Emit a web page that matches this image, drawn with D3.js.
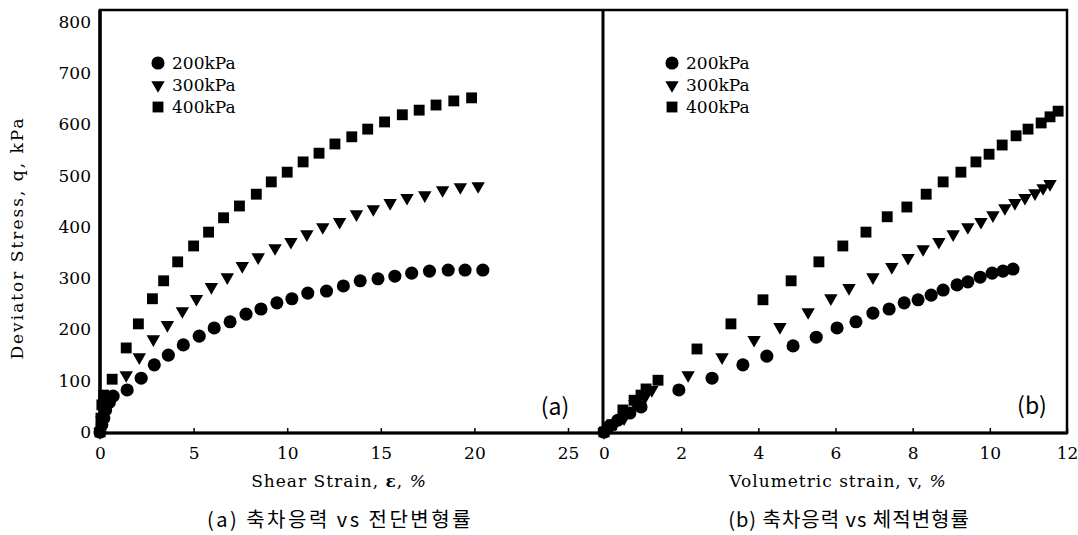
<!DOCTYPE html>
<html>
<head>
<meta charset="utf-8">
<script src="https://cdn.jsdelivr.net/npm/d3@7"></script>
<style>
  body { margin: 0; background: white; }
  svg { display: block; }
</style>
</head>
<body>
<svg id="chart"></svg>
<script>
// deviator stress vs shear strain (a) and volumetric strain (b)
var W = 1078;
var H = 535;

var seriesNames = ["200kPa", "300kPa", "400kPa"];

// panel (a): shear strain %, deviator stress kPa
var a200_x = [0, 0.1, 0.2, 0.3, 0.5, 0.7, 1.45, 2.2, 2.9, 3.65, 4.45, 5.3, 6.1, 6.95, 7.8, 8.6, 9.45, 10.25, 11.1, 12.1, 13.0, 13.9, 14.85, 15.75, 16.65, 17.6, 18.6, 19.5, 20.45];
var a200_q = [0, 14, 27, 43, 58, 70, 82, 105, 131, 150, 170, 187, 203, 215, 230, 240, 252, 260, 271, 275, 285, 295, 299, 304, 310, 314, 316, 316, 316];

var a300_x = [0, 0.1, 0.2, 0.3, 1.4, 2.1, 2.85, 3.6, 4.4, 5.15, 5.95, 6.8, 7.6, 8.45, 9.35, 10.2, 11.05, 11.9, 12.8, 13.7, 14.6, 15.5, 16.4, 17.35, 18.3, 19.25, 20.2];
var a300_q = [0, 23, 53, 72, 111, 146, 181, 209, 236, 260, 283, 302, 324, 341, 359, 371, 386, 400, 410, 425, 435, 447, 457, 462, 472, 478, 480];

var a400_x = [0, 0.05, 0.1, 0.2, 0.65, 1.4, 2.05, 2.8, 3.4, 4.15, 5.0, 5.8, 6.6, 7.45, 8.35, 9.15, 10.0, 10.85, 11.7, 12.55, 13.45, 14.3, 15.2, 16.15, 17.05, 17.95, 18.9, 19.85];
var a400_q = [0, 27, 53, 72, 103, 164, 211, 260, 295, 332, 363, 390, 418, 441, 464, 488, 507, 527, 544, 562, 576, 591, 605, 619, 628, 638, 646, 652];

// panel (b): volumetric strain %, deviator stress kPa
var b200_x = [0, 0.15, 0.36, 0.67, 0.96, 1.94, 2.8, 3.6, 4.22, 4.9, 5.5, 6.04, 6.53, 6.97, 7.39, 7.78, 8.14, 8.48, 8.79, 9.15, 9.43, 9.75, 10.06, 10.34, 10.6];
var b200_q = [0, 12, 23, 37, 49, 82, 105, 131, 148, 168, 185, 203, 215, 232, 240, 252, 258, 267, 277, 287, 293, 302, 310, 314, 318];

var b300_x = [0, 0.29, 0.52, 0.8, 1.06, 1.24, 2.18, 3.06, 3.89, 4.56, 5.29, 5.88, 6.35, 6.97, 7.46, 7.88, 8.27, 8.68, 9.05, 9.43, 9.77, 10.08, 10.39, 10.65, 10.91, 11.17, 11.38, 11.56];
var b300_q = [0, 16, 27, 55, 68, 82, 111, 146, 180, 205, 234, 261, 281, 302, 322, 340, 357, 371, 386, 400, 410, 423, 437, 447, 457, 466, 476, 484];

var b400_x = [0, 0.2, 0.49, 0.78, 0.96, 1.09, 1.4, 2.41, 3.29, 4.12, 4.85, 5.57, 6.19, 6.79, 7.34, 7.85, 8.35, 8.79, 9.25, 9.64, 9.98, 10.32, 10.68, 10.99, 11.33, 11.56, 11.77];
var b400_q = [0, 14, 43, 62, 72, 84, 101, 162, 211, 258, 295, 332, 363, 390, 420, 439, 464, 488, 507, 527, 542, 560, 578, 591, 603, 615, 626];

var yTicks = [0, 100, 200, 300, 400, 500, 600, 700, 800];
var aTicks = [0, 5, 10, 15, 20, 25];
var bTicks = [0, 2, 4, 6, 8, 10, 12];

var SERIF = "'DejaVu Serif', serif";
var SANS = "'Noto Sans CJK KR', 'Noto Sans', sans-serif";

var svg = d3.select("#chart").attr("width", W).attr("height", H);
svg.append("rect").attr("width", W).attr("height", H).attr("fill", "white");

var top_y = 10, bot_y = 433;
var left_x = 100, mid_x = 603, right_x = 1067;

var y = d3.scaleLinear().domain([0, 800]).range([432, 22]);
var xa = d3.scaleLinear().domain([0, 25]).range([left_x, 568]);
var xb = d3.scaleLinear().domain([0, 12]).range([604, right_x]);

var shapes = [d3.symbolCircle, d3.symbolTriangle, d3.symbolSquare];
var sizes = [135, 78, 118];

function drawSeries(xs, qs, xScale, i) {
  var pts = xs.map((v, k) => ({x: v, q: qs[k]}));
  svg.append("g").selectAll("path")
    .data(pts)
    .enter()
    .append("path")
    .attr("d", d3.symbol(shapes[i]).size(sizes[i]))
    .attr("fill", "black")
    .attr("transform", d => "translate(" + xScale(d.x) + "," + y(d.q) + ")" + (i == 1 ? " rotate(180)" : ""));
}

drawSeries(a200_x, a200_q, xa, 0);
drawSeries(a300_x, a300_q, xa, 1);
drawSeries(a400_x, a400_q, xa, 2);
drawSeries(b200_x, b200_q, xb, 0);
drawSeries(b300_x, b300_q, xb, 1);
drawSeries(b400_x, b400_q, xb, 2);

// frames
svg.append("rect")
  .attr("x", left_x).attr("y", top_y)
  .attr("width", right_x - left_x).attr("height", bot_y - top_y)
  .attr("fill", "none").attr("stroke", "black").attr("stroke-width", 2.5);
svg.append("line")
  .attr("x1", mid_x).attr("x2", mid_x).attr("y1", top_y).attr("y2", bot_y)
  .attr("stroke", "black").attr("stroke-width", 3);
svg.append("line")
  .attr("x1", left_x).attr("x2", left_x).attr("y1", top_y).attr("y2", bot_y)
  .attr("stroke", "black").attr("stroke-width", 3.5);
svg.append("line")
  .attr("x1", left_x).attr("x2", right_x).attr("y1", bot_y).attr("y2", bot_y)
  .attr("stroke", "black").attr("stroke-width", 3);

// axes
var yAxis = g => g
  .attr("transform", `translate(${left_x},0)`)
  .call(d3.axisLeft(y).tickValues(yTicks).tickSize(0).tickPadding(9))
  .call(g => g.select(".domain").remove());

var xAxisA = g => g
  .attr("transform", `translate(0,${bot_y})`)
  .call(d3.axisBottom(xa).tickValues(aTicks).tickSizeInner(-5).tickSizeOuter(0).tickPadding(14))
  .call(g => g.select(".domain").remove());

var xAxisB = g => g
  .attr("transform", `translate(0,${bot_y})`)
  .call(d3.axisBottom(xb).tickValues(bTicks).tickSizeInner(-5).tickSizeOuter(0).tickPadding(14))
  .call(g => g.select(".domain").remove());

[svg.append("g").call(yAxis), svg.append("g").call(xAxisA), svg.append("g").call(xAxisB)]
  .forEach(g => {
    g.selectAll("text").style("font-family", SERIF).style("font-size", "17px").attr("fill", "black");
    g.selectAll("line").attr("stroke", "black").attr("stroke-width", 1.5);
  });

// axis titles
svg.append("text")
  .attr("transform", "translate(23,238) rotate(-90)")
  .attr("text-anchor", "middle")
  .style("font-family", SERIF).style("font-size", "17px")
  .style("letter-spacing", "2px")
  .text("Deviator Stress, q, kPa");

var ta = svg.append("text")
  .attr("x", 339).attr("y", 487)
  .attr("text-anchor", "middle")
  .style("font-family", SERIF).style("font-size", "17px")
  .style("letter-spacing", "1px");
ta.append("tspan").text("Shear Strain, ");
ta.append("tspan").style("font-weight", "bold").text("ε");
ta.append("tspan").text(", ");
ta.append("tspan").style("font-style", "italic").text("%");

var tb = svg.append("text")
  .attr("x", 838).attr("y", 487)
  .attr("text-anchor", "middle")
  .style("font-family", SERIF).style("font-size", "17px")
  .style("letter-spacing", "1px");
tb.append("tspan").text("Volumetric strain, v, ");
tb.append("tspan").style("font-style", "italic").text("%");

// panel tags
svg.append("text").attr("x", 555).attr("y", 415)
  .attr("text-anchor", "middle")
  .style("font-family", SANS).style("font-size", "23px")
  .text("(a)");
svg.append("text").attr("x", 1032).attr("y", 414)
  .attr("text-anchor", "middle")
  .style("font-family", SANS).style("font-size", "23px")
  .text("(b)");

// captions
svg.append("text").attr("x", 340).attr("y", 527)
  .attr("text-anchor", "middle")
  .style("font-family", SANS).style("font-size", "20px")
  .style("letter-spacing", "2.5px")
  .text("(a) 축차응력 vs 전단변형률");
svg.append("text").attr("x", 849).attr("y", 527)
  .attr("text-anchor", "middle")
  .style("font-family", SANS).style("font-size", "20px")
  .style("letter-spacing", "1px")
  .text("(b) 축차응력 vs 체적변형률");

// legends
function legend(x0) {
  seriesNames.forEach((name, i) => {
    var yy = 63 + i * 22;
    svg.append("path")
      .attr("d", d3.symbol(shapes[i]).size(sizes[i])())
      .attr("fill", "black")
      .attr("transform", "translate(" + x0 + "," + yy + ")" + (i == 1 ? " rotate(180)" : ""));
    svg.append("text")
      .attr("x", x0 + 14).attr("y", yy + 6)
      .style("font-family", SERIF).style("font-size", "17px")
      .text(name);
  });
}
legend(158);
legend(672);
</script>
</body>
</html>
